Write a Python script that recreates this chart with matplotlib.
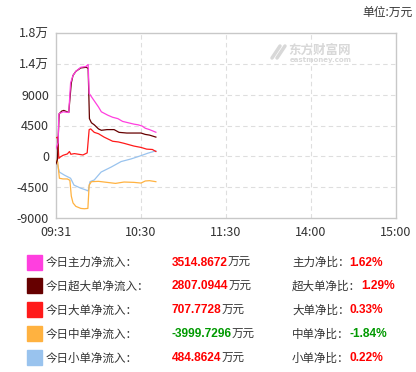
"""Eastmoney-style intraday capital flow chart (单位: 万元)."""

import matplotlib

matplotlib.use("Agg")
import matplotlib.pyplot as plt

plt.rcParams["font.family"] = ["Noto Sans CJK SC", "DejaVu Sans"]

# ---------------------------------------------------------------------------
# Style
# ---------------------------------------------------------------------------
W, H = 416, 372
DPI = 100
SPINE = "#c8c8c8"
GRID = "#dedede"
TEXT = "#333333"
WATER = "#d8d8d8"
UP = "#ff0000"
DOWN = "#009900"
NUM_FONT = ["Liberation Sans", "DejaVu Sans"]

C_MAIN = "#ff3fdf"
C_SUPER = "#660000"
C_LARGE = "#ff1a1a"
C_MID = "#ffb240"
C_SMALL = "#99c3ee"

# ---------------------------------------------------------------------------
# Data (minutes after 09:31, value in 万元)
# ---------------------------------------------------------------------------
main_t = [0, 1.5, 2, 5, 9, 10.3, 12, 14, 17.5, 21, 22.7, 23.4, 25, 27, 30, 32,
          36.6, 40, 43.7, 47, 51, 55, 58, 61, 63, 66, 70.5]
main_v = [1100, 2000, 6200, 6500, 6400, 10700, 11800, 12400, 13000, 13100, 13400,
          9200, 8700, 8100, 7200, 6500, 6000, 5700, 5500, 5100, 4900, 4700, 4600,
          4400, 4100, 3900, 3515]

super_t = [0, 1, 2.2, 4, 5.5, 9, 10.8, 12, 14, 17.5, 21.5, 22.7, 23.6, 25, 27, 30,
           32, 36, 41, 44.5, 50, 56, 60, 63, 66, 70.5]
super_v = [-1100, -500, 6200, 6600, 6700, 6400, 10700, 11800, 12400, 12900, 13000,
           12800, 5500, 4900, 4600, 4000, 3800, 3900, 3900, 3500, 3400, 3400, 3400,
           3200, 3100, 2807]

large_t = [0, 1.2, 2, 3, 5, 8, 9.5, 10.5, 13, 16, 19, 22, 23.4, 24.5, 27, 30, 34,
           40, 44, 48, 55, 60, 64, 68, 70.5]
large_v = [2700, 2800, -300, -100, 150, 350, 700, 300, 400, 300, 200, 500, 3900,
           4000, 3500, 3300, 2800, 2200, 2100, 1900, 1500, 1300, 1050, 1000, 708]

mid_t = [0, 1.2, 2.4, 5, 8, 9.8, 10.8, 12, 14, 17.5, 20, 22.5, 23.4, 25, 30, 36,
         42, 48, 55, 60, 63, 66, 70.5]
mid_v = [-500, -800, -3200, -3300, -3300, -3500, -5800, -6800, -7300, -7600, -7650,
         -7600, -4200, -3700, -3650, -3800, -3950, -3750, -3800, -3900, -3600,
         -3550, -3700]

small_t = [0, 1, 2.4, 6, 10.3, 12.7, 17.5, 21, 22.7, 24, 27, 31.8, 39, 46, 53, 60,
           65, 70.5]
small_v = [-400, -1200, -2300, -2750, -3200, -4200, -4650, -4900, -5050, -3700,
           -3450, -2300, -1560, -760, -380, 100, 470, 800]

y_ticks = [-9000, -4500, 0, 4500, 9000, 13500, 18000]
y_labels = ["-9000", "-4500", "0", "4500", "9000", "1.4万", "1.8万"]
x_ticks = [0, 60, 120, 180, 240]
x_labels = ["09:31", "10:30", "11:30", "14:00", "15:00"]

names = ["今日主力净流入：", "今日超大单净流入：", "今日大单净流入：",
         "今日中单净流入：", "今日小单净流入："]
amounts = ["3514.8672", "2807.0944", "707.7728", "-3999.7296", "484.8624"]
ratio_names = ["主力净比：", "超大单净比：", "大单净比：", "中单净比：", "小单净比："]
ratios = ["1.62%", "1.29%", "0.33%", "-1.84%", "0.22%"]
colors = [C_MAIN, C_SUPER, C_LARGE, C_MID, C_SMALL]


def px(x, y):
    """Pixel position (from top-left) to figure fraction."""
    return x / W, 1 - y / H


fig = plt.figure(figsize=(W / DPI, H / DPI), dpi=DPI, facecolor="white")
ax = fig.add_axes([56 / W, 1 - 218 / H, 340 / W, 185 / H])

series = [(main_t, main_v, C_MAIN), (super_t, super_v, C_SUPER),
          (large_t, large_v, C_LARGE), (mid_t, mid_v, C_MID),
          (small_t, small_v, C_SMALL)]
for t, v, c in series[::-1]:
    ax.plot(t, v, color=c, lw=0.9, zorder=3)

ax.set_xlim(0, 240)
ax.set_ylim(-9000, 18000)
ax.set_yticks(y_ticks)
ax.set_yticklabels(y_labels)
ax.set_xticks(x_ticks)
ax.set_xticklabels(x_labels)
ax.tick_params(length=0, labelsize=9, colors=TEXT, pad=5)
ax.tick_params(axis="x", pad=6)
for s in ax.spines.values():
    s.set_color(SPINE)
    s.set_linewidth(1)
for y in y_ticks[1:-1]:
    ax.axhline(y, color=GRID, lw=0.8, ls=(0, (4, 3)), zorder=1)
for x in x_ticks[1:-1]:
    ax.axvline(x, color=GRID, lw=0.8, ls=(0, (4, 3)), zorder=1)

# watermark: swoosh logo + name
for dx in (0, 5):
    fig.add_artist(plt.Line2D([(272 + dx) / W, (280 + dx) / W],
                              [1 - 58 / H, 1 - 46 / H],
                              color=WATER, lw=2.5, solid_capstyle="round"))
fig.text(*px(320, 50), "东方财富网", ha="center", va="center", fontsize=9,
         color=WATER, fontweight="bold")
fig.text(*px(321, 60), "eastmoney.com", ha="center", va="center", fontsize=5,
         color=WATER, fontweight="bold", family="DejaVu Sans")

fig.text(*px(413, 12), "单位:万元", ha="right", va="center", fontsize=8.5, color=TEXT)

# legend table
row_y = [262.5, 286, 310, 334, 358]
for i, yy in enumerate(row_y):
    fig.patches.append(plt.Rectangle(px(27, yy + 7), 15 / W, 15 / H,
                                     transform=fig.transFigure, color=colors[i]))
    fig.text(*px(46, yy), names[i], ha="left", va="center", fontsize=8.3,
             color=TEXT)
    vcol = DOWN if amounts[i].startswith("-") else UP
    t_amt = fig.text(*px(172, yy), amounts[i], ha="left", va="center",
                     fontsize=8.6, color=vcol, fontweight="bold", family=NUM_FONT)
    ax.annotate("万元", xy=(1, 0.5), xycoords=t_amt, ha="left", va="center",
                fontsize=8.3, color=TEXT, annotation_clip=False)
    t_rn = fig.text(*px(292, yy), ratio_names[i], ha="left", va="center",
                    fontsize=8.3, color=TEXT)
    rcol = DOWN if ratios[i].startswith("-") else UP
    ax.annotate(ratios[i], xy=(1, 0.5), xycoords=t_rn, ha="left", va="center",
                fontsize=8.6, color=rcol, fontweight="bold", family=NUM_FONT,
                annotation_clip=False)

fig.savefig("out.png", dpi=DPI, facecolor="white")
